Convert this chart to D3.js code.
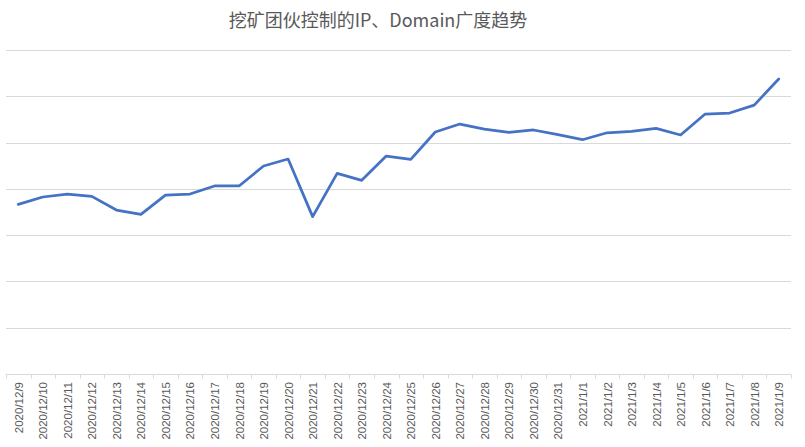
<!DOCTYPE html>
<html><head><meta charset="utf-8">
<script src="https://cdn.jsdelivr.net/npm/d3@7/dist/d3.min.js"></script>
<style>body{margin:0;background:#fff}svg{display:block}</style>
</head><body>
<svg id="c" width="805" height="447"></svg>
<script>
const title = "挖矿团伙控制的IP、Domain广度趋势";
const categories = ["2020/12/9","2020/12/10","2020/12/11","2020/12/12","2020/12/13","2020/12/14","2020/12/15","2020/12/16","2020/12/17","2020/12/18","2020/12/19","2020/12/20","2020/12/21","2020/12/22","2020/12/23","2020/12/24","2020/12/25","2020/12/26","2020/12/27","2020/12/28","2020/12/29","2020/12/30","2020/12/31","2021/1/1","2021/1/2","2021/1/3","2021/1/4","2021/1/5","2021/1/6","2021/1/7","2021/1/8","2021/1/9"];
const values = [1833,1912,1944,1919,1771,1725,1933,1944,2031,2031,2247,2322,1700,2168,2092,2354,2319,2614,2700,2646,2610,2636,2585,2531,2606,2621,2653,2582,2808,2819,2905,3186];
const yTicks = [0,500,1000,1500,2000,2500,3000,3500];

const svg = d3.select("#c");
const mLeft = 6, mRight = 791, mTop = 50, mBottom = 374;

const x = d3.scaleBand().domain(categories).range([mLeft, mRight]).paddingInner(0).paddingOuter(0);
const y = d3.scaleLinear().domain([0, 3500]).range([mBottom, mTop]);

// gridlines
svg.append("g").selectAll("line").data(yTicks.slice(1)).join("line")
  .attr("x1", mLeft).attr("x2", mRight)
  .attr("y1", d => Math.round(y(d)) + 0.5).attr("y2", d => Math.round(y(d)) + 0.5)
  .attr("stroke", "#d9d9d9").attr("stroke-width", 1);

// x axis
const xAxis = svg.append("g").attr("transform", `translate(0,${mBottom + 0.5})`);
xAxis.append("line").attr("x1", mLeft).attr("x2", mRight).attr("stroke", "#d9d9d9");
xAxis.selectAll("line.tk").data(categories.concat(["__end"])).join("line").attr("class","tk")
  .attr("x1", (d,i) => Math.round(mLeft + i * x.step()) + 0.5)
  .attr("x2", (d,i) => Math.round(mLeft + i * x.step()) + 0.5)
  .attr("y1", 0).attr("y2", 4).attr("stroke", "#d9d9d9");
xAxis.selectAll("text").data(categories).join("text")
  .attr("transform", d => `translate(${x(d) + x.bandwidth()/2 + 4.5},7.5) rotate(-90)`)
  .attr("text-anchor", "end")
  .attr("font-family", "'Liberation Sans', Arial, sans-serif")
  .attr("font-size", 11.5)
  .attr("fill", "#595959")
  .text(d => d);

// line
const line = d3.line().x((d,i) => x(categories[i]) + x.bandwidth()/2).y(d => y(d));
svg.append("path").datum(values).attr("d", line)
  .attr("fill", "none").attr("stroke", "#4472c4").attr("stroke-width", 2.75)
  .attr("stroke-linejoin", "round").attr("stroke-linecap", "round");

// title
svg.append("text").attr("x", 378).attr("y", 27).attr("text-anchor", "middle")
  .attr("font-family", "'Noto Sans CJK SC', 'Noto Sans', sans-serif")
  .attr("font-size", 18).attr("fill", "#595959").text(title);
</script>
</body></html>
